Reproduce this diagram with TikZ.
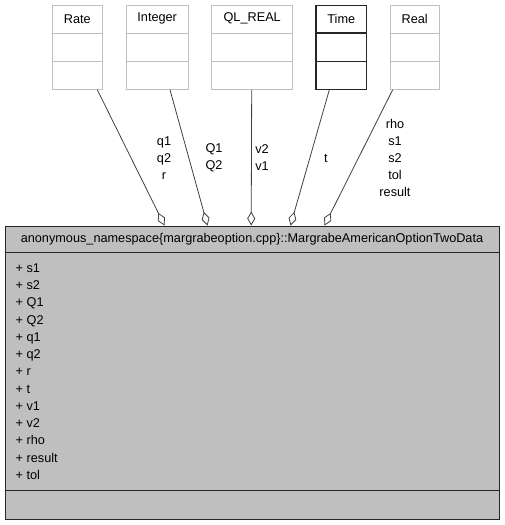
\documentclass[tikz,border=0pt]{standalone}
\usepackage{fontspec}
\setmainfont{Liberation Sans}
\usetikzlibrary{arrows.meta}
\definecolor{lightedge}{HTML}{BFBFBF}
\definecolor{mainfill}{HTML}{BFBFBF}
\definecolor{edgecol}{HTML}{404040}
\begin{document}
\begin{tikzpicture}[x=1pt,y=-1pt,
  txt/.style={font=\fontsize{12.7}{17}\selectfont, inner sep=0pt},
  cls/.style={draw=lightedge, line width=0.9pt, fill=white, minimum height=83.6pt, inner sep=0pt},
  clsdark/.style={draw=black!85, line width=1.1pt, fill=white, minimum height=83.6pt, inner sep=0pt},
  mainbox/.style={draw=black!85, line width=1pt, fill=mainfill, minimum width=494pt, minimum height=293pt, inner sep=0pt},
  agg/.style={draw=edgecol, line width=0.8pt, -{Diamond[open, length=14pt, width=8pt, line width=0.8pt]}},
  lbl/.style={txt, align=center}
]
\useasboundingbox (0,0) rectangle (504,525);

% supplier classes
\node[cls, minimum width=50.7pt] (rate) at (77.3,47.5) {};
\node[cls, minimum width=62.3pt] (integer) at (157.2,47.5) {};
\node[cls, minimum width=81pt] (qlreal) at (252.2,47.5) {};
\node[clsdark, minimum width=50.7pt] (time) at (341.3,47.5) {};
\node[cls, minimum width=49.3pt] (real) at (414.7,47.5) {};

\foreach \n in {rate,integer,qlreal,real}{
  \draw[lightedge, line width=0.9pt] ([yshift=-27.8pt]\n.north west) -- ([yshift=-27.8pt]\n.north east);
  \draw[lightedge, line width=0.9pt] ([yshift=-56pt]\n.north west) -- ([yshift=-56pt]\n.north east);
}
\draw[black!85, line width=1.1pt] ([yshift=-27.8pt]time.north west) -- ([yshift=-27.8pt]time.north east);
\draw[black!85, line width=1.1pt] ([yshift=-56pt]time.north west) -- ([yshift=-56pt]time.north east);

\node[txt] (ratet) at ([yshift=-13.5pt]rate.north) {Rate};
\node[txt] (integert) at ([yshift=-13.5pt]integer.north) {Integer};
\node[txt] (qlrealt) at ([yshift=-13.5pt]qlreal.north) {QL\_REAL};
\node[txt] (timet) at ([yshift=-13.5pt]time.north) {Time};
\node[txt] (realt) at ([yshift=-13.5pt]real.north) {Real};

% main class
\node[mainbox] (main) at (252,372.5) {};
\draw[black!85, line width=1pt] ([yshift=-27pt]main.north west) -- ([yshift=-27pt]main.north east);
\draw[black!85, line width=1pt] ([yshift=-265pt]main.north west) -- ([yshift=-265pt]main.north east);
\node[txt] (title) at ([yshift=-14pt]main.north) {anonymous\_namespace\{margrabeoption.cpp\}::MargrabeAmericanOptionTwoData};
\node[txt, align=left, anchor=north west, font=\fontsize{12.7}{17.25}\selectfont] (attrs) at (15.5,263.5)
 {+ s1\\+ s2\\+ Q1\\+ Q2\\+ q1\\+ q2\\+ r\\+ t\\+ v1\\+ v2\\+ rho\\+ result\\+ tol};

% aggregation connectors
\draw[agg] ([xshift=20pt]rate.south) -- ([xshift=160pt]main.north west);
\draw[agg] ([xshift=12.8pt]integer.south) -- ([xshift=203pt]main.north west);
\draw[agg] ([xshift=-0.5pt]qlreal.south) -- ([xshift=246.7pt]main.north west);
\draw[agg] ([xshift=-12pt]time.south) -- ([xshift=286pt]main.north west);
\draw[agg] ([xshift=-22pt]real.south) -- ([xshift=320pt]main.north west);

% labels
\node[lbl] (l1) at (164,158.3) {q1\\q2\\r};
\node[lbl] (l2) at (214,158) {Q1\\Q2};
\node[lbl] (l3) at (262,158) {v2\\v1};
\node[lbl] (l4) at (326,158.3) {t};
\node[lbl] (l5) at (395,157.8) {rho\\s1\\s2\\tol\\result};
\end{tikzpicture}
\end{document}
